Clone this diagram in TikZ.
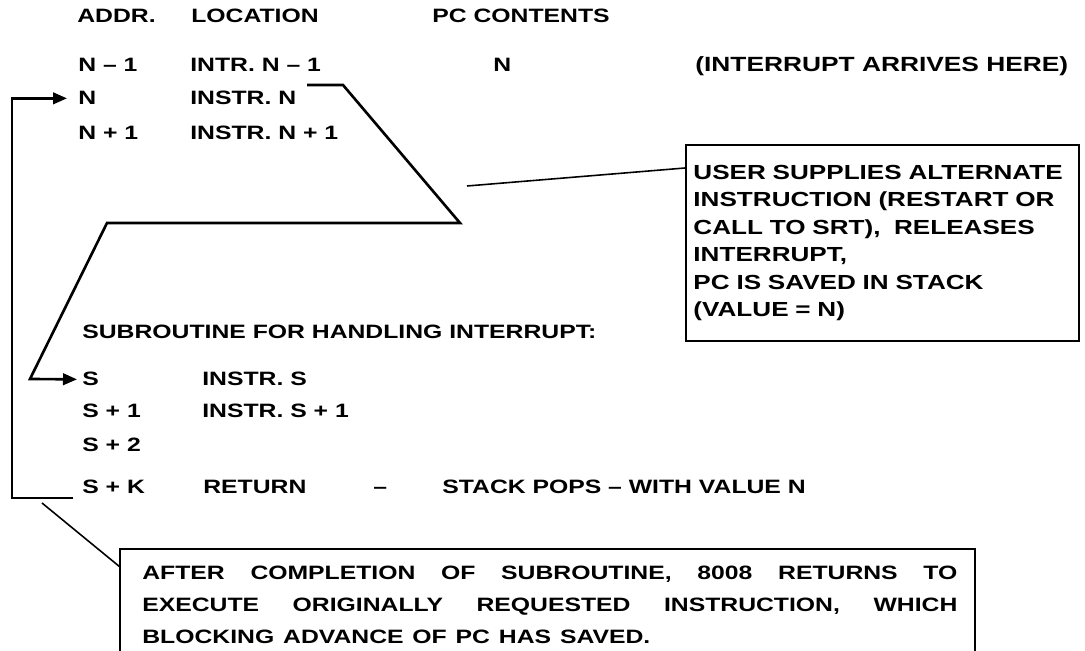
\documentclass[tikz,border=0pt]{standalone}
\usepackage{fontspec}
\newfontfamily\figfont{Liberation Sans}[FakeStretch=1.28]
\usetikzlibrary{arrows.meta}
\tikzset{
  lbl/.style={anchor=base west, inner sep=0pt, font=\figfont\bfseries\fontsize{11}{14}\selectfont},
  conn/.style={line width=1.5pt},
  lead/.style={line width=0.9pt},
  arr/.style={-{Triangle[length=2.8mm,width=2.3mm]}},
  notebox/.style={draw, line width=1.1pt, align=left, inner xsep=1.5mm, inner ysep=0pt,
    font=\figfont\bfseries\fontsize{11.6}{15.6}\selectfont},
}
\begin{document}
\begin{tikzpicture}[x=0.2mm,y=-0.2mm]
\useasboundingbox (0,0) rectangle (1085,651);

% column heads
\node[lbl] (haddr) at (77,23) {ADDR.};
\node[lbl] (hloc) at (191,23) {LOCATION};
\node[lbl] (hpc) at (432,23) {PC CONTENTS};

\node[lbl] (nm1) at (78,72) {N \textendash\ 1};
\node[lbl] (lnm1) at (190,72) {INTR. N \textendash\ 1};
\node[lbl] (pc) at (493,72) {N};
\node[lbl, font=\figfont\bfseries\fontsize{11.7}{14}\selectfont] (arrive) at (695,72) {(INTERRUPT ARRIVES HERE)};

\node[lbl] (n) at (78,105) {N};
\node[lbl] (ln) at (190,105) {INSTR. N};
\node[lbl] (np1) at (78,140) {N + 1};
\node[lbl] (lnp1) at (190,140) {INSTR. N + 1};

% subroutine
\node[lbl] (sub) at (82,339) {SUBROUTINE FOR HANDLING INTERRUPT:};
\node[lbl] (s) at (82,386) {S};
\node[lbl] (ls) at (202,386) {INSTR. S};
\node[lbl] (sp1) at (82,418) {S + 1};
\node[lbl] (lsp1) at (202,418) {INSTR. S + 1};
\node[lbl] (sp2) at (82,452) {S + 2};
\node[lbl] (sk) at (82,494) {S + K};
\node[lbl] (ret) at (203,494) {RETURN};
\node[lbl] (dash) at (373,494) {\textendash};
\node[lbl] (pops) at (442,494) {STACK POPS \textendash\ WITH VALUE N};

% notes
\node[notebox, anchor=north west, text width=7.56cm, minimum height=3.92cm] (alt) at (685,144)
  {USER SUPPLIES ALTERNATE\\INSTRUCTION (RESTART OR\\CALL TO SRT),\ \ RELEASES\\INTERRUPT,\\PC IS SAVED IN STACK\\(VALUE = N)};

\draw[line width=1.1pt] (120,651) |- (975,549) -- (975,651);
\node[lbl] (aft1) at (142,580) {\makebox[16.3cm][s]{AFTER COMPLETION OF SUBROUTINE, 8008 RETURNS TO}};
\node[lbl] (aft2) at (142,612) {\makebox[16.3cm][s]{EXECUTE ORIGINALLY REQUESTED INSTRUCTION, WHICH}};
\node[lbl] (aft3) at (142,644) {\makebox[10.16cm][s]{BLOCKING ADVANCE OF PC HAS SAVED.}};

% connectors
\coordinate (zz1) at (307,85);
\coordinate (zz2) at (343,85);
\coordinate (zz3) at (460,223);
\coordinate (zz4) at (107,223);
\coordinate (zz5) at (30,379);
\draw[conn, arr] (zz1) -- (zz2) -- (zz3) -- (zz4) -- (zz5) -- ([xshift=-1mm]s.west);

\coordinate (loop) at (73,498);
\draw[conn, arr] (loop) -| ([xshift=-13.2mm]n.west) -- ([xshift=-2.2mm]n.west);

\coordinate (altfoot) at (467,186);
\draw[lead] (altfoot) -- ([yshift=-4.8mm]alt.north west);
\coordinate (loopfoot) at (42,503);
\coordinate (aftleft) at (120,567);
\draw[lead] (loopfoot) -- (aftleft);
\end{tikzpicture}
\end{document}
